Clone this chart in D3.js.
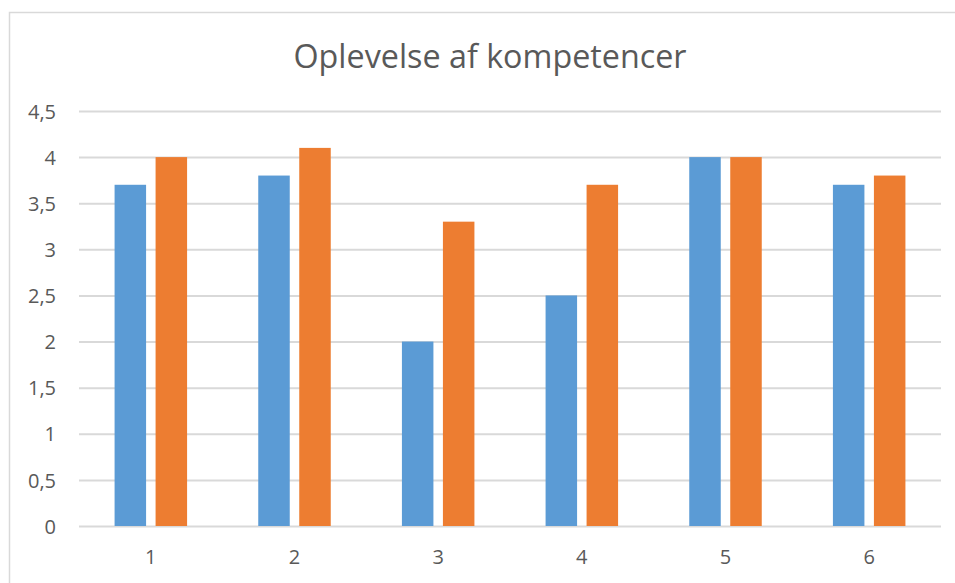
<!DOCTYPE html>
<html><head><meta charset="utf-8">
<script src="https://cdn.jsdelivr.net/npm/d3@7"></script>
<style>body{margin:0;background:#fff}text{font-family:"Open Sans","Liberation Sans",sans-serif}</style>
</head><body><svg id="c" width="955" height="583"></svg>
<script>
const title = "Oplevelse af kompetencer";
const categories = ["1","2","3","4","5","6"];
const seriesA = [3.7, 3.8, 2.0, 2.5, 4.0, 3.7];
const seriesB = [4.0, 4.1, 3.3, 3.7, 4.0, 3.8];
const yTicks = [0, 0.5, 1, 1.5, 2, 2.5, 3, 3.5, 4, 4.5];
const colors = ["#5B9BD5", "#ED7D31"];

const svg = d3.select("#c");
svg.append("rect").attr("x",9.5).attr("y",12.5).attr("width",960).attr("height",600)
  .attr("fill","#fff").attr("stroke","#D9D9D9").attr("stroke-width",1.5);

const m = {l:79, r:941, t:111, b:526};
const x = d3.scaleBand().domain(categories).range([m.l, m.r]);
const y = d3.scaleLinear().domain([0, 4.5]).range([m.b, m.t]);
const fmt = d => String(d).replace(".", ",");

const yAxis = svg.append("g").attr("transform",`translate(${m.l},0)`)
  .call(d3.axisLeft(y).tickValues(yTicks).tickSize(-(m.r-m.l)).tickFormat(fmt));
yAxis.attr("font-size", null);
yAxis.select(".domain").remove();
yAxis.selectAll("line").attr("stroke","#D9D9D9").attr("stroke-width",2);
yAxis.selectAll("text").attr("x",-23).attr("dy","0.36em").attr("fill","#595959").attr("font-size","20px");

const xAxis = svg.append("g").attr("transform",`translate(0,${m.b})`)
  .call(d3.axisBottom(x).tickSize(0));
xAxis.attr("font-size", null);
xAxis.select(".domain").remove();
xAxis.selectAll("text").attr("dy","0").attr("y",38).attr("fill","#595959").attr("font-size","20px");

const bw = 31.5, gap = 9.5;
const series = [seriesA, seriesB];
series.forEach((vals, si) => {
  svg.append("g").selectAll("rect").data(vals).join("rect")
    .attr("x", (d,i) => x(categories[i]) + x.bandwidth()/2 - (bw + gap/2) + si*(bw+gap))
    .attr("y", d => y(d))
    .attr("width", bw)
    .attr("height", d => y(0) - y(d))
    .attr("fill", colors[si]);
});

svg.append("text").attr("x",490).attr("y",68).attr("text-anchor","middle")
  .attr("fill","#595959").attr("font-size","32px")
  .attr("textLength",393).attr("lengthAdjust","spacingAndGlyphs").text(title);
</script></body></html>
